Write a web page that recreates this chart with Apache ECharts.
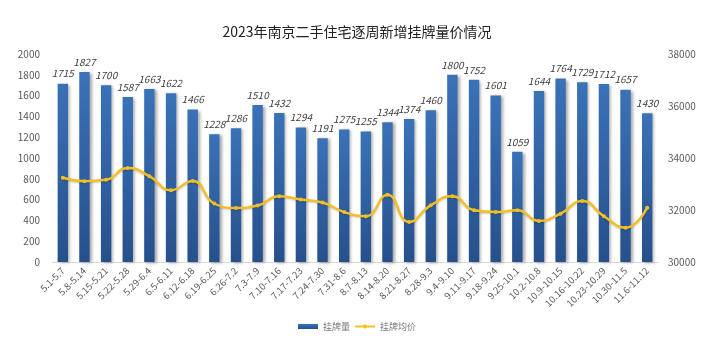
<!DOCTYPE html>
<html><head><meta charset="utf-8">
<script src="https://cdn.jsdelivr.net/npm/echarts@6/dist/echarts.min.js"></script>
<style>html,body{margin:0;padding:0;background:#fff}#c{width:714px;height:346px}</style>
</head><body><div id="c"></div>
<script>
const categories = ['5.1-5.7','5.8-5.14','5.15-5.21','5.22-5.28','5.29-6.4','6.5-6.11','6.12-6.18','6.19-6.25','6.26-7.2','7.3-7.9','7.10-7.16','7.17-7.23','7.24-7.30','7.31-8.6','8.7-8.13','8.14-8.20','8.21-8.27','8.28-9.3','9.4-9.10','9.11-9.17','9.18-9.24','9.25-10.1','10.2-10.8','10.9-10.15','10.16-10.22','10.23-10.29','10.30-11.5','11.6-11.12'];
const listings = [1715,1827,1700,1587,1663,1622,1466,1228,1286,1510,1432,1294,1191,1275,1255,1344,1374,1460,1800,1752,1601,1059,1644,1764,1729,1712,1657,1430];
const avgPrice = [33240,33110,33160,33620,33300,32760,33120,32250,32080,32170,32530,32400,32290,31920,31760,32590,31540,32180,32530,31990,31920,31990,31580,31860,32350,31760,31320,32090];
const leftTicks = [0,200,400,600,800,1000,1200,1400,1600,1800,2000];
const rightTicks = [30000,32000,34000,36000,38000];

const chart = echarts.init(document.getElementById('c'));
const font = '"Microsoft YaHei","Noto Sans CJK SC","Noto Sans",sans-serif';
chart.setOption({
  animation:false,
  textStyle:{fontFamily:font},
  title:{text:'2023年南京二手住宅逐周新增挂牌量价情况',left:'center',top:20,
    textStyle:{fontSize:14,fontWeight:'normal',color:'#222',fontFamily:font}},
  grid:{left:52,right:56,top:54,bottom:84},
  legend:{bottom:10,left:'center',itemWidth:20,itemHeight:5,itemGap:4,
    textStyle:{fontSize:9,color:'#777'},
    data:[{name:'挂牌量',icon:'rect'},{name:'挂牌均价'}]},
  xAxis:{type:'category',data:categories,
    axisLine:{lineStyle:{color:'#d9d9d9'}},axisTick:{show:false},
    axisLabel:{rotate:45,interval:0,fontSize:9.5,color:'#595959',margin:7}},
  yAxis:[
    {type:'value',min:leftTicks[0],max:leftTicks[leftTicks.length-1],interval:200,
     splitLine:{show:false},axisLine:{show:false},axisTick:{show:false},
     axisLabel:{fontSize:10,color:'#595959',margin:12,formatter:v=>String(v)}},
    {type:'value',min:rightTicks[0],max:rightTicks[rightTicks.length-1],interval:2000,
     splitLine:{show:false},axisLine:{show:false},axisTick:{show:false},
     axisLabel:{fontSize:10,color:'#595959',margin:10,formatter:v=>String(v)}}
  ],
  series:[
    {name:'挂牌量',type:'bar',data:listings,barWidth:'48%',
     itemStyle:{color:new echarts.graphic.LinearGradient(0,0,0,1,[{offset:0,color:'#3a72b8'},{offset:1,color:'#26508c'}]),
       shadowColor:'rgba(0,0,0,0.35)',shadowBlur:3,shadowOffsetX:2,shadowOffsetY:1},
     label:{show:true,position:'top',fontSize:10,fontStyle:'italic',color:'#404040',distance:5}},
    {name:'挂牌均价',type:'line',yAxisIndex:1,data:avgPrice,smooth:0.5,
     symbol:'circle',symbolSize:4,
     lineStyle:{color:'#f4bf22',width:2.5,shadowColor:'rgba(0,0,0,0.2)',shadowBlur:2,shadowOffsetY:1},
     itemStyle:{color:'#f4bf22'}}
  ]
});
</script></body></html>
